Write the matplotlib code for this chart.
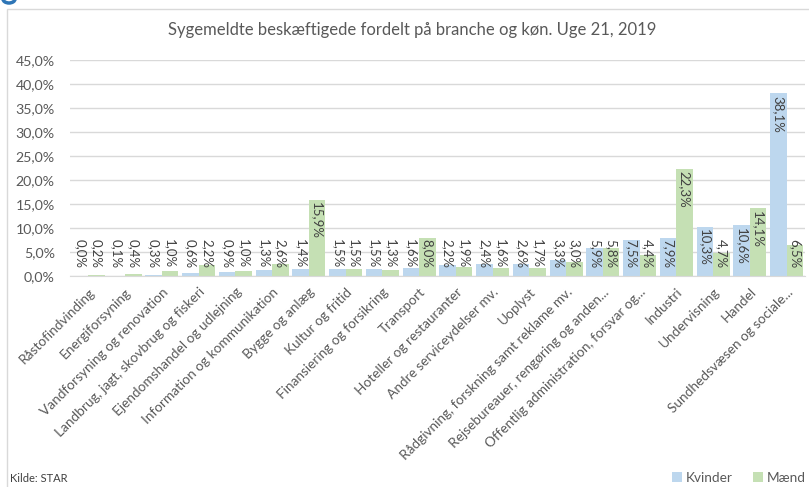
import numpy as np
import matplotlib
matplotlib.use("Agg")
import matplotlib.pyplot as plt
from matplotlib.patches import Arc

plt.rcParams["font.family"] = ["Lato", "DejaVu Sans"]

categories = [
    "Råstofindvinding", "Energiforsyning", "Vandforsyning og renovation",
    "Landbrug, jagt, skovbrug og fiskeri", "Ejendomshandel og udlejning",
    "Information og kommunikation", "Bygge og anlæg", "Kultur og fritid",
    "Finansiering og forsikring", "Transport", "Hoteller og restauranter",
    "Andre serviceydelser mv.", "Uoplyst",
    "Rådgivning, forskning samt reklame mv.",
    "Rejsebureauer, rengøring og anden...",
    "Offentlig administration, forsvar og...", "Industri", "Undervisning",
    "Handel", "Sundhedsvæsen og sociale...",
]
kvinder = [0.0, 0.1, 0.3, 0.6, 0.9, 1.3, 1.4, 1.5, 1.5, 1.6,
           2.2, 2.4, 2.6, 3.3, 5.9, 7.5, 7.9, 10.3, 10.6, 38.1]
maend = [0.2, 0.4, 1.0, 2.2, 1.0, 2.6, 15.9, 1.5, 1.3, 8.0,
         1.9, 1.6, 1.7, 3.0, 5.8, 4.4, 22.3, 4.7, 14.1, 6.5]
yticks = np.arange(0, 46, 5)

BLUE = "#bdd7ee"
GREEN = "#c5e0b4"
TXT = "#595959"

fig = plt.figure(figsize=(8.09, 4.87), dpi=100)
ax = fig.add_axes([70 / 809, 211 / 487, 735 / 809, 216 / 487])

x = np.arange(len(categories))
w = 0.45
ax.bar(x - w / 2, kvinder, w, color=BLUE, label="Kvinder", zorder=2)
ax.bar(x + w / 2, maend, w, color=GREEN, label="Mænd", zorder=2)

# data labels, rotated, inside end (pushed up when the bar is too short)
for xs, vals in ((x - w / 2, kvinder), (x + w / 2, maend)):
    for xi, v in zip(xs, vals):
        top = max(v, 8.2) - 0.5
        ax.text(xi, top, f"{v:.1f}%".replace(".", ","), rotation=-90,
                ha="center", va="top", fontsize=9.5, color="#404040",
                zorder=3)

ax.set_xlim(-0.5, len(categories) - 0.5)
ax.set_ylim(0, 45)
ax.set_yticks(yticks)
ax.set_yticklabels([f"{t:.1f}%".replace(".", ",") for t in yticks],
                   fontsize=10.2, color=TXT)
ax.grid(axis="y", color="#d9d9d9", lw=1, zorder=0)
ax.set_xticks(x)
ax.set_xticklabels(categories, rotation=45, ha="right",
                   rotation_mode="anchor", fontsize=9.8, color=TXT)
ax.tick_params(length=0, pad=7)
ax.tick_params(axis="y", pad=11)
for s in ("top", "right", "left"):
    ax.spines[s].set_visible(False)
ax.spines["bottom"].set_color("#d9d9d9")

fig.text(412 / 809, 1 - 30 / 487, "Sygemeldte beskæftigede fordelt på branche "
         "og køn. Uge 21, 2019", ha="center", va="center", fontsize=12,
         color=TXT)
fig.text(10 / 809, 1 - 479 / 487, "Kilde: STAR", ha="left", va="center",
         fontsize=8, color="#404040")
fig.legend(loc="center right", bbox_to_anchor=(806 / 809, 1 - 478 / 487),
           ncol=2, frameon=False, fontsize=9.8, handlelength=0.7,
           handleheight=0.7, handletextpad=0.3, columnspacing=1.5,
           labelcolor=TXT, borderaxespad=0, borderpad=0)

# chart frame
fig.add_artist(plt.Rectangle((7 / 809, -0.01), 1.0, 1 - 9 / 487 + 0.01,
                             transform=fig.transFigure, fill=False,
                             edgecolor="#d9d9d9", lw=1))
# cut-off heading glyph above the frame
fig.add_artist(Arc((9 / 809, 1 + 1 / 487), 12 / 809, 8 / 487, theta1=180,
                   theta2=360, transform=fig.transFigure, color="#2e75b6",
                   lw=2.5))

fig.savefig("out.png", dpi=100)
